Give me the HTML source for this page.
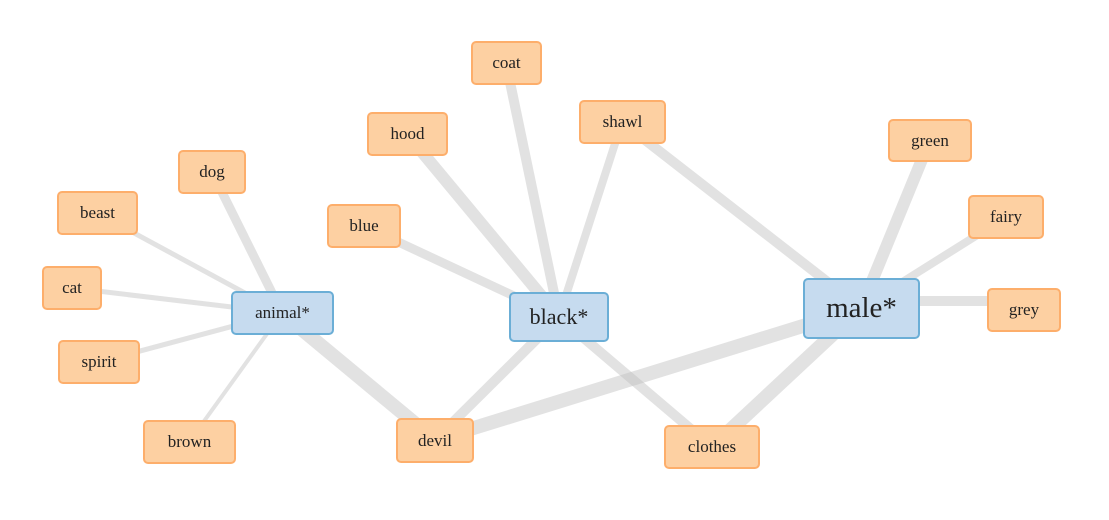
<!DOCTYPE html>
<html><head><meta charset="utf-8"><style>
body{margin:0;width:1109px;height:520px;background:#fff;position:relative;overflow:hidden;font-family:"Liberation Serif",serif;}
svg{position:absolute;left:0;top:0}
.n{position:absolute;box-sizing:border-box;display:flex;align-items:center;justify-content:center;border-radius:5px;color:#222;}
.o{background:#fdd0a2;border:2px solid #fdae6b;font-size:17px}
.b{background:#c6dbef;border:2px solid #6baed6;}
</style></head><body>
<svg width="1109" height="520">
<g stroke="rgba(190,190,190,0.45)" stroke-linecap="butt">
<line x1="212" y1="172" x2="282" y2="313" stroke-width="9"/>
<line x1="97" y1="213" x2="282" y2="313" stroke-width="5"/>
<line x1="72" y1="288" x2="282" y2="313" stroke-width="5"/>
<line x1="99" y1="362" x2="282" y2="313" stroke-width="5"/>
<line x1="189" y1="442" x2="282" y2="313" stroke-width="4"/>
<line x1="282" y1="313" x2="435" y2="440" stroke-width="14"/>
<line x1="407" y1="134" x2="559" y2="317" stroke-width="12"/>
<line x1="506" y1="63" x2="559" y2="317" stroke-width="10"/>
<line x1="622" y1="122" x2="559" y2="317" stroke-width="8"/>
<line x1="364" y1="226" x2="559" y2="317" stroke-width="9"/>
<line x1="559" y1="317" x2="435" y2="440" stroke-width="10"/>
<line x1="559" y1="317" x2="712" y2="447" stroke-width="10"/>
<line x1="622" y1="122" x2="861" y2="308" stroke-width="10"/>
<line x1="930" y1="140" x2="861" y2="308" stroke-width="12"/>
<line x1="1006" y1="217" x2="861" y2="308" stroke-width="8"/>
<line x1="1024" y1="301" x2="861" y2="301" stroke-width="10"/>
<line x1="435" y1="440" x2="861" y2="308" stroke-width="14"/>
<line x1="712" y1="447" x2="861" y2="308" stroke-width="14"/>
</g></svg>
<div class="n o" style="left:471px;top:41px;width:71px;height:44px">coat</div>
<div class="n o" style="left:367px;top:112px;width:81px;height:44px">hood</div>
<div class="n o" style="left:579px;top:100px;width:87px;height:44px">shawl</div>
<div class="n o" style="left:178px;top:150px;width:68px;height:44px">dog</div>
<div class="n o" style="left:57px;top:191px;width:81px;height:44px">beast</div>
<div class="n o" style="left:327px;top:204px;width:74px;height:44px">blue</div>
<div class="n o" style="left:42px;top:266px;width:60px;height:44px">cat</div>
<div class="n o" style="left:888px;top:119px;width:84px;height:43px">green</div>
<div class="n o" style="left:968px;top:195px;width:76px;height:44px">fairy</div>
<div class="n o" style="left:987px;top:288px;width:74px;height:44px">grey</div>
<div class="n o" style="left:58px;top:340px;width:82px;height:44px">spirit</div>
<div class="n o" style="left:143px;top:420px;width:93px;height:44px">brown</div>
<div class="n o" style="left:396px;top:418px;width:78px;height:45px">devil</div>
<div class="n o" style="left:664px;top:425px;width:96px;height:44px">clothes</div>
<div class="n b" style="left:231px;top:291px;width:103px;height:44px;font-size:17px">animal*</div>
<div class="n b" style="left:509px;top:292px;width:100px;height:50px;font-size:22px">black*</div>
<div class="n b" style="left:803px;top:278px;width:117px;height:61px;font-size:29px">male*</div>
</body></html>
